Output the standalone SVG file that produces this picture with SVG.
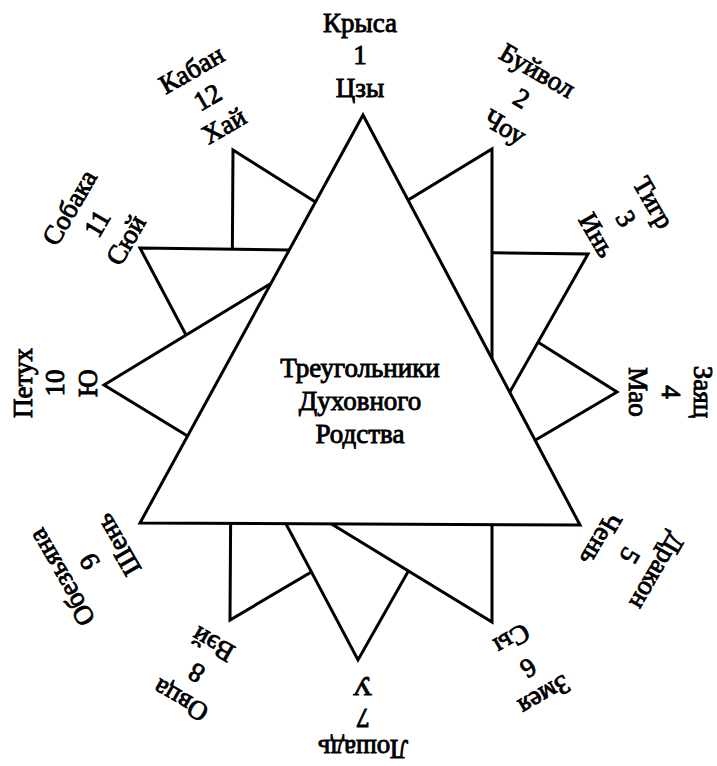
<svg xmlns="http://www.w3.org/2000/svg" width="717" height="766" viewBox="0 0 717 766">
<style>
.tri{fill:#fff;stroke:#000;stroke-width:3;stroke-linejoin:miter}
.t{font-family:"Liberation Serif","Times New Roman",serif;font-size:27px;text-anchor:middle;fill:#000;stroke:#000;stroke-width:0.9}
</style>
<rect width="717" height="766" fill="#fff"/>
<g id="triangles">
<g id="tri-rabbit-sheep-boar"><polygon class="tri" points="233,150 617,392 230,620"/></g>
<g id="tri-tiger-horse-dog"><polygon class="tri" points="140,248 588,254 358,660"/></g>
<g id="tri-ox-snake-rooster"><polygon class="tri" points="492,149 492,622 104,385"/></g>
<g id="tri-rat-dragon-monkey"><polygon class="tri" points="363,115 580,525 140,523"/></g>
</g>
<g id="title">
<text class="t" x="360" y="377">Треугольники</text>
<text class="t" x="360" y="410">Духовного</text>
<text class="t" x="360" y="443">Родства</text>
</g>
<g id="label-1" transform="translate(360,64) rotate(0)"><text class="t" y="-32">Крыса</text><text class="t" y="0">1</text><text class="t" y="33">Цзы</text></g>
<g id="label-2" transform="translate(517,106) rotate(30)"><text class="t" y="-32">Буйвол</text><text class="t" y="0">2</text><text class="t" y="33">Чоу</text></g>
<g id="label-3" transform="translate(618,223) rotate(60)"><text class="t" y="-32">Тигр</text><text class="t" y="0">3</text><text class="t" y="33">Инь</text></g>
<g id="label-4" transform="translate(662,392) rotate(90)"><text class="t" y="-32">Заяц</text><text class="t" y="0">4</text><text class="t" y="33">Мао</text></g>
<g id="label-5" transform="translate(622,551) rotate(120)"><text class="t" y="-32">Дракон</text><text class="t" y="0">5</text><text class="t" y="33">Чень</text></g>
<g id="label-6" transform="translate(524,660) rotate(150)"><text class="t" y="-32">Змея</text><text class="t" y="0">6</text><text class="t" y="33">Сы</text></g>
<g id="label-7" transform="translate(363,709) rotate(180)"><text class="t" y="-31">Лошадь</text><text class="t" y="0">7</text><text class="t" y="32">У</text></g>
<g id="label-8" transform="translate(201,665) rotate(210)"><text class="t" y="-32">Овца</text><text class="t" y="0">8</text><text class="t" y="33">Вэй</text></g>
<g id="label-9" transform="translate(97,557) rotate(240)"><text class="t" y="-32">Обезьяна</text><text class="t" y="0">9</text><text class="t" y="33">Шень</text></g>
<g id="label-10" transform="translate(64,383) rotate(270)"><text class="t" y="-32">Петух</text><text class="t" y="0">10</text><text class="t" y="33">Ю</text></g>
<g id="label-11" transform="translate(105,228) rotate(300)"><text class="t" y="-32">Собака</text><text class="t" y="0">11</text><text class="t" y="33">Сюй</text></g>
<g id="label-12" transform="translate(212,105) rotate(330)"><text class="t" y="-32">Кабан</text><text class="t" y="0">12</text><text class="t" y="33">Хай</text></g>
</svg>
